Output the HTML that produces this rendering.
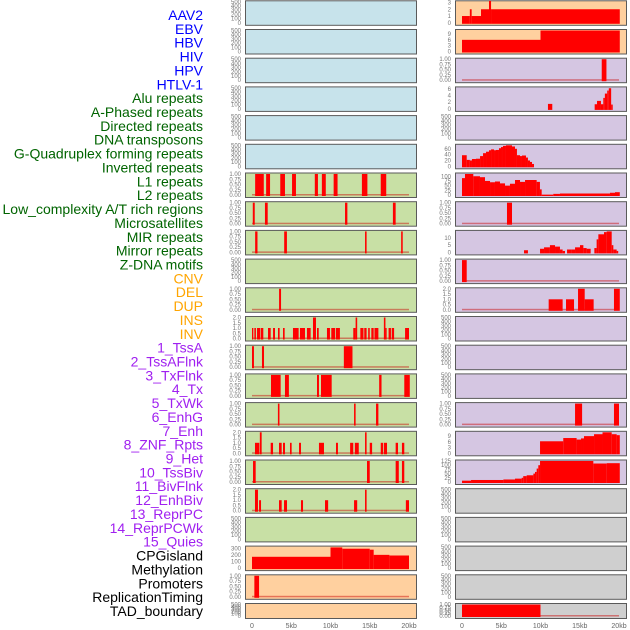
<!DOCTYPE html>
<html><head><meta charset="utf-8">
<style>
html,body{margin:0;padding:0;background:#fff;}
svg{display:block;font-family:"Liberation Sans",sans-serif;}
</style></head>
<body>
<svg id="chart" width="630" height="630" viewBox="0 0 630 630"></svg>
<script>
// ---------- labels ----------
const rowLabels = ["AAV2","EBV","HBV","HIV","HPV","HTLV-1","Alu repeats","A-Phased repeats","Directed repeats","DNA transposons","G-Quadruplex forming repeats","Inverted repeats","L1 repeats","L2 repeats","Low_complexity A/T rich regions","Microsatellites","MIR repeats","Mirror repeats","Z-DNA motifs","CNV","DEL","DUP","INS","INV","1_TssA","2_TssAFlnk","3_TxFlnk","4_Tx","5_TxWk","6_EnhG","7_Enh","8_ZNF_Rpts","9_Het","10_TssBiv","11_BivFlnk","12_EnhBiv","13_ReprPC","14_ReprPCWk","15_Quies","CPGisland","Methylation","Promoters","ReplicationTiming","TAD_boundary"];
const labelGroups = [6,13,5,15,5];
const labelColors = ["#0000ff","#006400","#ffa500","#a020f0","#000000"];
const xTicks = [0,5,10,15,20];
const xTickLabels = ["0","5kb","10kb","15kb","20kb"];

// ---------- tick sets ----------
const ticksEmpty = [0,100,200,300,400,500];
const ticks01 = [0,0.25,0.5,0.75,1];
const ticks02 = [0,0.5,1,1.5,2];

// ---------- left column data [startKb, endKb, value] ----------
const L7 = [[0.4,1.5,1],[1.8,2.3,1],[3.6,4.2,1],[5.1,5.6,1],[8.0,8.4,1],[8.9,9.4,1],[10.4,10.9,1],[14.0,14.7,1],[16.4,17.1,1]];
const L8 = [[0.1,0.35,1],[1.65,2.0,1],[11.85,12.15,1],[17.95,18.3,1]];
const L9 = [[0.4,0.7,1],[4.1,4.45,1],[14.4,14.6,1],[19.0,19.2,1]];
const L11 = [[3.45,3.7,1]];
const L12 = [[0,0.17,1],[0.3,0.5,1],[0.64,1.02,1],[1.1,1.44,1],[2.04,2.38,1],[2.68,2.93,1],[3.31,3.52,1],[3.95,4.16,1],[5.22,5.94,1],[6.11,6.75,1],[7.0,7.47,1],[7.77,8.15,2],[8.28,8.5,1],[9.55,9.93,1],[10.1,10.6,1],[10.7,11.2,1],[12.9,13.2,1],[13.2,13.4,2],[13.8,14.2,1],[14.3,14.6,1],[14.8,15.0,1],[15.2,15.5,1],[15.6,16.1,1],[16.8,17.0,2],[17.0,17.15,1],[17.4,17.7,1],[17.8,18.1,1],[19.5,20.0,1]];
const L13 = [[0,0.25,1],[1.27,1.53,1],[11.7,12.8,1]];
const L14 = [[2.42,3.65,1],[4.2,4.7,1],[8.28,8.53,1],[8.79,10.15,1],[16.2,16.5,1],[19.4,20.1,1]];
const L15 = [[3.3,3.5,1],[13.0,13.2,1],[15.8,16.1,1]];
const L16 = [[0.38,0.93,1],[1.0,1.23,2],[2.38,2.68,1],[3.44,3.78,1],[3.95,4.2,1],[4.84,5.05,1],[5.99,6.24,1],[8.53,9.17,1],[10.7,10.95,1],[12.5,12.9,1],[13.1,13.6,1],[14.4,14.6,2],[15.0,15.3,1],[16.4,16.7,1],[16.8,17.2,1],[18.3,18.6,1],[19.1,19.4,1]];
const L17 = [[0.13,0.47,1],[14.65,15.0,1],[18.3,18.7,1],[19.1,19.4,1]];
const L18 = [[0.38,0.76,2],[0.9,1.15,1],[3.44,3.78,1],[4.08,4.46,1],[6.24,6.5,1],[9.3,9.7,1],[13.0,13.4,1],[14.4,14.6,2],[19.6,20.0,1]];
const L20 = [[0,10,175],[10,11.5,320],[11.5,15,300],[15,15.5,285],[15.5,17.5,205],[17.5,20,195]];
const L21 = [[0.3,0.9,1]];

// ---------- right column data ----------
const R1 = [[0,1.0,1],[1.0,1.23,2],[1.23,2.42,1],[2.42,3.44,2],[3.44,3.7,3.4],[3.7,20.1,2]];
const R2 = [[0,10,6],[10,20.1,10.8]];
const R3 = [[17.8,18.4,1]];
const R4 = [[10.95,11.5,1.5],[16.9,17.2,1.4],[17.2,17.7,2.4],[17.7,18.0,1.4],[18.0,18.2,3.3],[18.2,18.5,4.6],[18.5,18.7,5.5],[18.7,19.0,6.2],[19.0,19.2,1.3]];
const R6 = [[0,0.6,38],[0.6,1.0,22],[1.0,1.27,20],[1.27,1.78,25],[1.78,2.3,26],[2.3,2.68,35],[2.68,3.06,45],[3.06,3.44,50],[3.44,3.7,55],[3.7,4.08,58],[4.08,4.33,55],[4.33,4.71,56],[4.71,4.97,62],[4.97,5.22,66],[5.22,5.6,70],[5.6,6.37,72],[6.37,6.75,68],[6.75,7.0,60],[7.0,7.39,38],[7.39,7.64,35],[7.64,8.15,37],[8.15,8.4,30],[8.4,8.66,20],[8.66,8.92,15],[8.92,9.17,8]];
const R7 = [[0,0.38,90],[0.38,1.44,112],[1.44,2.29,100],[2.29,2.93,95],[2.93,3.57,75],[3.57,4.2,68],[4.2,4.84,72],[4.84,5.48,62],[5.48,6.11,50],[6.11,6.75,60],[6.75,7.39,80],[7.39,8.03,70],[8.03,9.51,80],[9.51,9.93,70],[9.93,10.15,30],[10.15,11.63,2],[11.63,12.48,6],[12.48,18.85,8],[18.85,19.49,12],[19.49,20.1,15]];
const R8 = [[5.73,6.37,1]];
const R9 = [[7.9,8.4,1.5],[9.94,10.45,2.5],[10.45,11.2,3.5],[11.2,11.85,5],[11.85,12.48,4],[12.48,12.82,2],[12.82,13.12,1],[13.38,14.0,2],[14.0,14.4,2],[14.4,15.03,3.5],[15.03,15.46,5],[15.46,15.88,3],[15.88,16.39,2.5],[16.86,17.15,3],[17.15,17.37,9],[17.37,18.09,12.5],[18.09,18.43,14],[18.43,19.07,14.5],[19.07,19.28,5],[19.28,19.7,2],[19.7,19.9,1]];
const R10 = [[0,0.6,1]];
const R11 = [[11.04,12.82,1],[13.25,14.27,1],[14.78,15.63,2],[15.63,16.77,1],[19.36,20.1,2]];
const R15 = [[14.4,15.3,1],[19.36,20.0,1]];
const R16 = [[9.94,12.9,6.3],[12.9,14.6,8],[14.6,15.16,7.2],[15.16,15.54,7.8],[15.54,16.82,9],[16.82,17.9,10],[17.9,19.07,11],[19.07,19.7,10],[19.7,20.1,9.5]];
const R17 = [[0,1.15,8],[1.15,5.27,12],[5.27,6.75,15],[6.75,7.6,20],[7.6,7.8,25],[7.8,8.24,35],[8.24,9.09,40],[9.09,9.3,50],[9.3,9.51,60],[9.51,9.72,80],[9.72,9.94,100],[9.94,16.73,125],[16.73,18.43,110],[18.43,20.1,112]];
const R22 = [[0,10,1]];

const BLUE="#c7e3eb", GREEN="#c8e0a5", ORANGE="#ffd09f", PURPLE="#d5c6e2", GRAY="#cfcfcf";
const leftPanels = [
 [BLUE,ticksEmpty,null,null],[BLUE,ticksEmpty,null,null],[BLUE,ticksEmpty,null,null],[BLUE,ticksEmpty,null,null],[BLUE,ticksEmpty,null,null],[BLUE,ticksEmpty,null,null],
 [GREEN,ticks01,null,L7],[GREEN,ticks01,null,L8],[GREEN,ticks01,null,L9],[GREEN,ticksEmpty,null,null],[GREEN,ticks01,null,L11],[GREEN,ticks02,null,L12],
 [GREEN,ticks01,null,L13],[GREEN,ticks01,null,L14],[GREEN,ticks01,null,L15],[GREEN,ticks02,null,L16],[GREEN,ticks01,null,L17],[GREEN,ticks02,null,L18],[GREEN,ticksEmpty,null,null],
 [ORANGE,[0,100,200,300],325,L20],[ORANGE,ticks01,null,L21],[ORANGE,ticksEmpty,null,null]
];
const rightPanels = [
 [ORANGE,[0,1,2,3],3.1,R1],[ORANGE,[0,3,6,9],10.8,R2],[PURPLE,ticks01,null,R3],[PURPLE,[0,2,4,6],6.3,R4],[PURPLE,ticksEmpty,null,null],[PURPLE,[0,20,40,60],72,R6],
 [PURPLE,[0,25,50,75,100],112,R7],[PURPLE,ticks01,null,R8],[PURPLE,[0,5,10],14.5,R9],[PURPLE,ticks01,null,R10],[PURPLE,ticks02,null,R11],[PURPLE,ticksEmpty,null,null],
 [PURPLE,ticksEmpty,null,null],[PURPLE,ticksEmpty,null,null],[PURPLE,ticks01,null,R15],[PURPLE,[0,3,6,9],11,R16],[PURPLE,[0,25,50,75,100,125],125,R17],
 [GRAY,ticksEmpty,null,null],[GRAY,ticksEmpty,null,null],[GRAY,ticksEmpty,null,null],[GRAY,ticksEmpty,null,null],[GRAY,ticks01,null,R22]
];

const svg = document.getElementById('chart');
const NS = "http://www.w3.org/2000/svg";
function mk(tag, attrs, parent){const e=document.createElementNS(NS,tag);for(const k in attrs)e.setAttribute(k,attrs[k]);(parent||svg).appendChild(e);return e;}

// labels
let li=0;
labelGroups.forEach((n,g)=>{for(let j=0;j<n;j++){
  const t=mk('text',{x:203,y:15+li*13.86+5,'text-anchor':'end','font-size':'14',fill:labelColors[g]});
  t.textContent=rowLabels[li];
  
  
  li++;}});

function fmt(ticks,v){
  if(ticks===ticks01) return v.toFixed(2);
  if(ticks===ticks02) return v.toFixed(1);
  return String(v);
}
function drawPanel(p,i,col){
  const [bg,ticks,maxOverride,data]=p;
  const x0 = col===0?245:455, w=171;
  const top = 0.3+28.7*i;
  const h = i===21?15:24.5;
  const kb0 = col===0?252:462, pxPerKb=7.85;
  const xs = kb=>kb0+kb*pxPerKb;
  const max = maxOverride || ticks[ticks.length-1];
  const yb = top+h-2, yt = top+1.5;
  const ys = v=>yb-(v/max)*(yb-yt);
  const g=mk('g',{});
  
  
  mk('rect',{x:x0+0.5,y:top+0.5,width:w,height:h,fill:bg,stroke:'#5a5a5a','stroke-width':1},g);
  ticks.forEach(v=>{
    const t=mk('text',{x:x0-4,y:ys(v)+2,'text-anchor':'end','font-size':'6',fill:'#777'},g);
    t.textContent=fmt(ticks,v);
    
    
  });
  if(data){
    if(maxOverride===null || ticks===ticks01 || ticks===ticks02){
      mk('rect',{x:xs(0),y:yb-1,width:xs(20)-xs(0),height:1.5,fill:'rgba(200,0,0,0.45)'},g);
    }
    data.forEach(d=>{
      const y=Math.max(ys(d[2]),top+0.5);
      const r=mk('rect',{x:xs(d[0]),y:y,width:Math.max(xs(d[1])-xs(d[0]),1.2),height:yb-y+1,fill:'#ff0000'},g);
      
      
    });
  }
}
leftPanels.forEach((p,i)=>drawPanel(p,i,0));
rightPanels.forEach((p,i)=>drawPanel(p,i,1));

// x axes
[252,462].forEach((kb0,c)=>{
  xTicks.forEach((v,k)=>{
    const t=mk('text',{x:kb0+v*7.85,y:628,'text-anchor':'middle','font-size':'7',fill:'#666'});
    t.textContent=xTickLabels[k];
    
    
  });
});
</script>
</body></html>
